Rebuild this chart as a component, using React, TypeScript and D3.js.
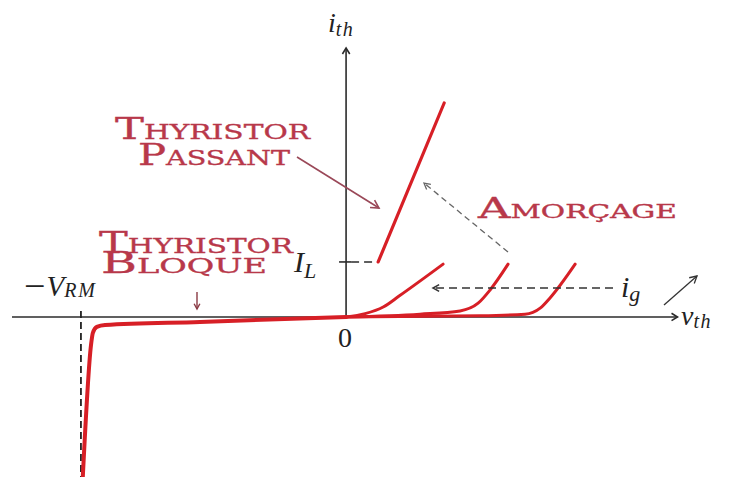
import React from "react";
import * as d3 from "d3";

// Thyristor static characteristic i_th = f(v_th), in arbitrary units
// (v: multiples of a reference voltage, i: multiples of the latching current I_L)
const V_RM = -10.0;
const I_L = 1.0;

// Reverse (blocking) branch down to avalanche at -V_RM
const reverseBranch: [number, number][] = [
  [-9.93, -2.91],
  [-9.62, -0.51],
  [-9.55, -0.29],
  [-9.4, -0.18],
  [-9.09, -0.145],
  [-5.51, -0.09],
  [0, 0],
];

// Forward blocking curves for three increasing gate currents i_g
const gateCurveHigh: [number, number][] = [
  [0, 0],
  [0.72, 0.06],
  [1.4, 0.18],
  [2.0, 0.38],
  [3.66, 0.96],
];
const gateCurveMid: [number, number][] = [
  [0, 0],
  [2.79, 0.05],
  [4.3, 0.11],
  [4.98, 0.25],
  [5.43, 0.49],
  [6.11, 0.96],
];
const gateCurveLow: [number, number][] = [
  [0, 0],
  [5.06, 0.02],
  [6.75, 0.05],
  [7.32, 0.16],
  [7.7, 0.35],
  [8.64, 0.96],
];

// On-state branch, starting at the latching current
const onStateBranch: [number, number][] = [
  [1.21, I_L],
  [3.7, 3.89],
];

const W = 732;
const H = 477;

const x = d3.scaleLinear().domain([-12.6, 12.5]).range([12, 677.5]);
const y = d3.scaleLinear().domain([-2.91, 4.89]).range([477, 48]);

const curve = d3
  .line<[number, number]>()
  .x((d) => x(d[0]))
  .y((d) => y(d[1]))
  .curve(d3.curveMonotoneX);

const straight = d3
  .line<[number, number]>()
  .x((d) => x(d[0]))
  .y((d) => y(d[1]));

const RED = "#d71f26";
const LABEL = "#b8384a";
const AXIS = "#2b2b2b";
const CAPS_FONT = "DejaVu Serif";
const MATH_FONT = "Liberation Serif";

// Open chevron arrowhead at (tx, ty), pointing along angle (radians)
function head(tx: number, ty: number, angle: number, size = 7, spread = 0.5) {
  const a1 = angle + Math.PI - spread;
  const a2 = angle + Math.PI + spread;
  return `M${tx + size * Math.cos(a1)},${ty + size * Math.sin(a1)}L${tx},${ty}L${
    tx + size * Math.cos(a2)
  },${ty + size * Math.sin(a2)}`;
}

function Arrow({
  x1,
  y1,
  x2,
  y2,
  color,
  width = 1.4,
  dash,
  size = 7,
}: {
  x1: number;
  y1: number;
  x2: number;
  y2: number;
  color: string;
  width?: number;
  dash?: string;
  size?: number;
}) {
  const ang = Math.atan2(y2 - y1, x2 - x1);
  return (
    <g stroke={color} strokeWidth={width} fill="none">
      <line x1={x1} y1={y1} x2={x2} y2={y2} strokeDasharray={dash} />
      <path d={head(x2, y2, ang, size)} />
    </g>
  );
}

// Word set in small capitals: first letter full size, the rest reduced
function SmallCaps({
  word,
  px,
  py,
  big,
  small,
  width,
}: {
  word: string;
  px: number;
  py: number;
  big: number;
  small: number;
  width: number;
}) {
  return (
    <text
      x={px}
      y={py}
      fill={LABEL}
      stroke={LABEL}
      strokeWidth={0.35}
      fontFamily={CAPS_FONT}
      textLength={width}
      lengthAdjust="spacingAndGlyphs"
    >
      <tspan fontSize={big}>{word[0]}</tspan>
      <tspan fontSize={small}>{word.slice(1)}</tspan>
    </text>
  );
}

export default function App() {
  const ox = x(0);
  const oy = y(0);
  const xL = x(-12.6);
  const xR = x(12.5);
  const yTop = y(4.89);

  return (
    <svg
      width={W}
      height={H}
      viewBox={`0 0 ${W} ${H}`}
      style={{ position: "absolute", left: 0, top: 0, background: "#fff" }}
    >
      {/* axes */}
      <g stroke={AXIS} strokeWidth={1.6} fill="none">
        <line x1={xL} y1={oy} x2={xR} y2={oy} />
        <path d={head(xR, oy, 0, 7, 0.55)} />
        <line x1={ox} y1={oy} x2={ox} y2={yTop} />
        <path d={head(ox, yTop, -Math.PI / 2, 7, 0.55)} />
        {/* latching current tick */}
        <line x1={ox - 7} y1={y(I_L)} x2={ox + 5} y2={y(I_L)} />
      </g>
      <line
        x1={ox + 5}
        y1={y(I_L)}
        x2={x(onStateBranch[0][0])}
        y2={y(I_L)}
        stroke={AXIS}
        strokeWidth={1.6}
        strokeDasharray="8,5"
      />
      {/* -V_RM marker */}
      <line
        x1={x(V_RM)}
        y1={oy - 6}
        x2={x(V_RM)}
        y2={H}
        stroke="#222"
        strokeWidth={1.8}
        strokeDasharray="7,4"
      />

      {/* characteristic curves */}
      <g fill="none" stroke={RED} strokeLinecap="round" strokeLinejoin="round">
        <path d={curve(reverseBranch) || ""} strokeWidth={4} />
        <path d={curve(gateCurveLow) || ""} strokeWidth={3} />
        <path d={curve(gateCurveMid) || ""} strokeWidth={3} />
        <path d={curve(gateCurveHigh) || ""} strokeWidth={3} />
        <path d={straight(onStateBranch) || ""} strokeWidth={3.2} />
      </g>

      {/* annotation arrows */}
      <Arrow x1={297} y1={157} x2={379} y2={208} color="#9a4858" width={1.6} size={9} />
      <Arrow x1={508} y1={252} x2={424} y2={183} color="#666" width={1.3} dash="6,4" size={7} />
      <Arrow x1={613} y1={288} x2={433} y2={288} color="#333" width={1.5} dash="8,5" size={7} />
      <Arrow x1={664} y1={305} x2={697} y2={276} color="#333" width={1.3} size={8} />
      <Arrow x1={197} y1={292} x2={197} y2={309} color="#8a3a44" width={1.4} size={6} />

      {/* labels */}
      <SmallCaps word="THYRISTOR" px={115} py={139} big={30} small={20.5} width={195} />
      <SmallCaps word="PASSANT" px={138} py={165} big={30} small={20.5} width={152} />
      <SmallCaps word="THYRISTOR" px={99} py={253} big={30} small={20.5} width={194} />
      <SmallCaps word="BLOQUE" px={101} py={273} big={30} small={20.5} width={166} />
      <SmallCaps word="AMORÇAGE" px={478} py={218} big={28} small={18.5} width={199} />

      <g fontFamily={MATH_FONT} fontStyle="italic" fill="#222">
        <text x={328} y={32} fontSize={28}>
          i
          <tspan fontSize={20} dy={4} letterSpacing={1.5}>
            th
          </tspan>
        </text>
        <text x={681} y={325} fontSize={28}>
          v
          <tspan fontSize={20} dy={3} letterSpacing={1.5}>
            th
          </tspan>
        </text>
        <text x={621} y={297} fontSize={30}>
          i
          <tspan fontSize={22} dy={4}>
            g
          </tspan>
        </text>
        <text x={294} y={272} fontSize={30}>
          I
          <tspan fontSize={22} dy={6}>
            L
          </tspan>
        </text>
        <text x={24} y={296} fontSize={28}>
          <tspan fontStyle="normal" fontSize={38} dy={3}>
            −
          </tspan>
          <tspan fontStyle="italic" fontSize={29} dx={1} dy={-3}>
            V
          </tspan>
          <tspan fontStyle="italic" fontSize={20} dy={1} letterSpacing={2}>
            RM
          </tspan>
        </text>
      </g>
      <text x={345} y={347} fontFamily={MATH_FONT} fontSize={28} fill="#222" textAnchor="middle">
        0
      </text>
    </svg>
  );
}
